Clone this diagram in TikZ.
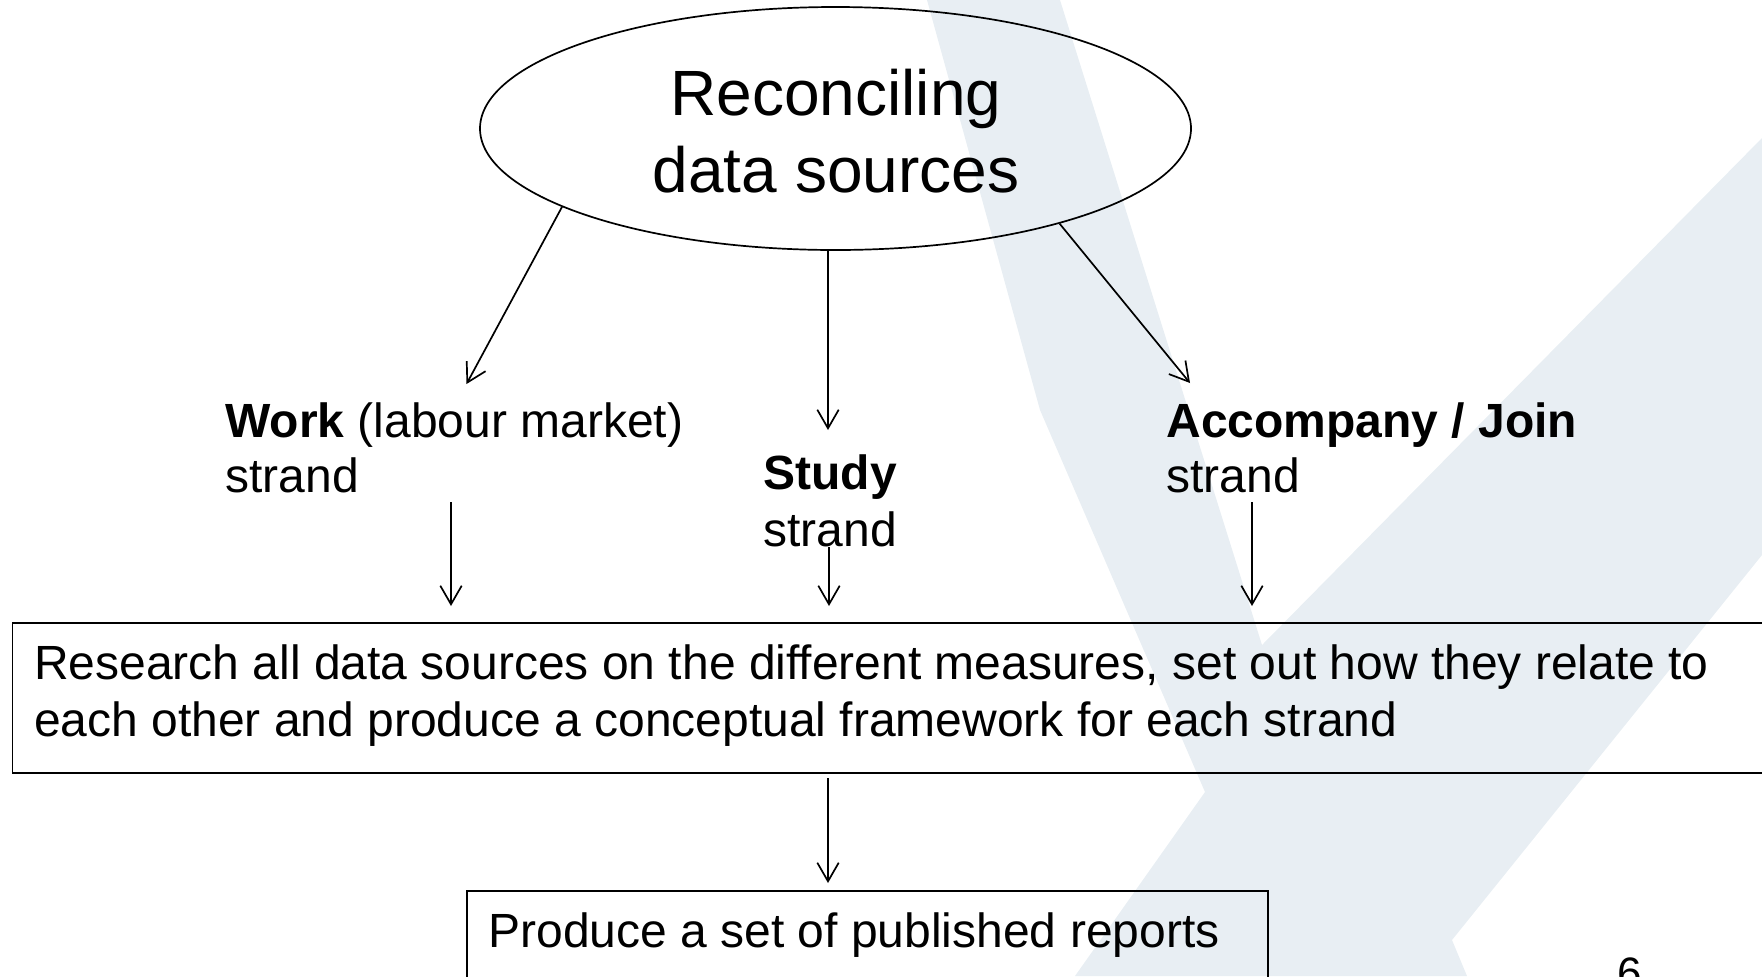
\documentclass[tikz,border=0pt]{standalone}
\usepackage{fontspec}
\setmainfont{Liberation Sans}
\usetikzlibrary{shapes.geometric,arrows.meta}
\definecolor{wm}{RGB}{232,238,243}
\begin{document}
\begin{tikzpicture}[x=0.5pt,y=-0.5pt,
  lbl/.style={anchor=base west, inner sep=0, font=\fontsize{24}{27.6}\selectfont},
  ttl/.style={anchor=base, inner sep=0, font=\fontsize{32}{38}\selectfont},
  pnum/.style={anchor=base, inner sep=0, font=\fontsize{22}{26}\selectfont},
  arr/.style={line width=0.85pt, -{Straight Barb[length=9.3pt,width=10.7pt]}},
  box/.style={draw, line width=0.9pt, inner sep=0, anchor=north west},
  oval/.style={draw, ellipse, line width=0.85pt, inner sep=0}]
\useasboundingbox (0,0) rectangle (1762,976);
% watermark
\fill[wm] (927,0) -- (1060,0) -- (1262,645) -- (1762,138) -- (1762,555)
  -- (1452,940) -- (1467,976) -- (1075,976) -- (1205,792) -- (1040,410) -- cycle;
% ellipse
\node[oval, minimum width=355.5pt, minimum height=121.5pt] (ell) at (835.5,128.5) {};
\node[ttl] (t1) at (836,115) {Reconciling};
\node[ttl] (t2) at (836,192) {data sources};
% strand labels
\node[lbl] (w1) at (225,437) {\textbf{Work} (labour market)};
\node[lbl] (w2) at (225,492) {strand};
\node[lbl] (s1) at (763,489) {\textbf{Study}};
\node[lbl] (s2) at (763,546) {strand};
\node[lbl] (a1) at (1166,437) {\textbf{Accompany / Join}};
\node[lbl] (a2) at (1166,492) {strand};
% boxes
\node[box, minimum width=884pt, minimum height=75pt] (box1) at (11.5,622) {};
\node[lbl] (r1) at (33.7,679) {Research all data sources on the different measures, set out how they relate to};
\node[lbl] (r2) at (33.7,736) {each other and produce a conceptual framework for each strand};
\node[box, minimum width=400.5pt, minimum height=60pt] (box2) at (466,890) {};
\node[lbl] (p1) at (488,947) {Produce a set of published reports};
\node[pnum] (pg) at (1630,988) {6};
% arrows
\coordinate (h1) at (466.5,384);
\coordinate (h2) at (828,430);
\coordinate (h3) at (1190,383);
\coordinate (b4) at (451,502);
\coordinate (h4) at (451,606);
\coordinate (b5) at (829,547);
\coordinate (h5) at (829,606);
\coordinate (b6) at (1252,502);
\coordinate (h6) at (1252,606);
\coordinate (b7) at (828,778);
\coordinate (h7) at (828,883);
\draw[arr] (ell.196) -- (h1);
\draw[arr] (ell.south -| h2) -- (h2);
\draw[arr] (ell.337) -- (h3);
\draw[arr] (b4) -- (h4);
\draw[arr] (b5) -- (h5);
\draw[arr] (b6) -- (h6);
\draw[arr] (b7) -- (h7);
\end{tikzpicture}
\end{document}
